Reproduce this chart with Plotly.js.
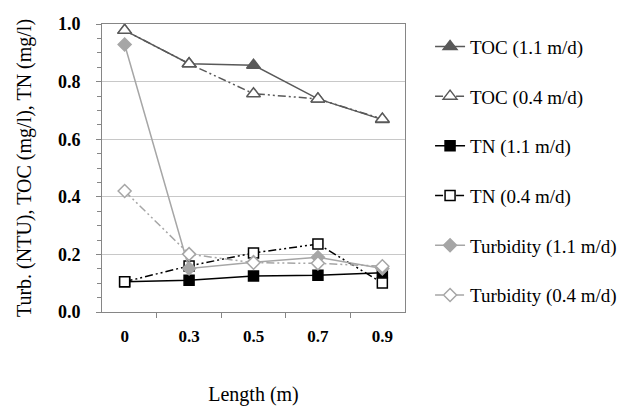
<!DOCTYPE html>
<html>
<head>
<meta charset="utf-8">
<script src="https://cdn.plot.ly/plotly-3.0.1.min.js"></script>
<style>html,body{margin:0;padding:0;background:#fff;}#chart{width:626px;height:406px;}</style>
</head>
<body>
<div id="chart"></div>
<script>
var categories = ['0', '0.3', '0.5', '0.7', '0.9'];
var tocFast = [0.978, 0.862, 0.857, 0.74, 0.668];
var tocSlow = [0.978, 0.862, 0.758, 0.74, 0.67];
var tnFast = [0.105, 0.11, 0.125, 0.128, 0.136];
var tnSlow = [0.105, 0.16, 0.205, 0.236, 0.101];
var turbFast = [0.929, 0.151, 0.173, 0.19, 0.151];
var turbSlow = [0.42, 0.201, 0.171, 0.169, 0.159];
var seriesNames = ['TOC (1.1 m/d)', 'TOC (0.4 m/d)', 'TN (1.1 m/d)', 'TN (0.4 m/d)', 'Turbidity (1.1 m/d)', 'Turbidity (0.4 m/d)'];

var FONT = '"Liberation Serif", "DejaVu Serif", serif';
var dashDotDot = '8px,3px,2px,3px,2px,3px';
function tr(y, name, color, dash, symbol, fill, size, g) {
  return {
    x: categories, y: y, name: name, type: 'scatter', mode: 'lines+markers',
    legendgroup: g,
    line: {color: color, width: 1.5, dash: dash},
    marker: {symbol: symbol, size: size, color: fill, line: {color: color, width: 1.5}}
  };
}
var data = [
  tr(tocFast, seriesNames[0], '#595959', 'solid', 'triangle-up', '#595959', 12, 'a'),
  tr(tocSlow, seriesNames[1], '#595959', dashDotDot, 'triangle-up', '#ffffff', 12, 'b'),
  tr(tnFast, seriesNames[2], '#000000', 'solid', 'square', '#000000', 10, 'c'),
  tr(tnSlow, seriesNames[3], '#000000', dashDotDot, 'square', '#ffffff', 10, 'd'),
  tr(turbFast, seriesNames[4], '#a6a6a6', 'solid', 'diamond', '#a6a6a6', 10, 'e'),
  tr(turbSlow, seriesNames[5], '#a6a6a6', dashDotDot, 'diamond', '#ffffff', 10, 'f')
];

var layout = {
  width: 626, height: 406,
  margin: {l: 102, r: 221, t: 24, b: 94},
  paper_bgcolor: '#ffffff', plot_bgcolor: '#ffffff',
  font: {family: FONT, color: '#000'},
  showlegend: true,
  legend: {xref: 'container', yref: 'container', x: 0.687, xanchor: 'left', y: 0.932, yanchor: 'top',
           maxheight: 380,
           tracegroupgap: 22, font: {size: 19, family: FONT}, itemwidth: 30, bgcolor: 'rgba(0,0,0,0)'},
  xaxis: {
    type: 'category', tickson: 'boundaries', ticks: 'outside', ticklen: 5, tickcolor: '#868686',
    ticklabelstandoff: 9,
    showline: true, linecolor: '#868686', linewidth: 1, mirror: true, showgrid: false,
    tickfont: {size: 17, family: FONT, weight: 'bold'},
    title: {text: 'Length (m)', font: {size: 20, family: FONT}, standoff: 46},
    fixedrange: true
  },
  yaxis: {
    range: [0, 1], dtick: 0.2, tickformat: '.1f', ticks: 'outside', ticklen: 5, tickcolor: '#868686',
    ticklabelstandoff: 12,
    minor: {dtick: 0.05, ticks: 'outside', ticklen: 4, tickcolor: '#868686', showgrid: false},
    showline: true, linecolor: '#868686', linewidth: 1, mirror: true,
    showgrid: true, gridcolor: '#c8c8c8', gridwidth: 1, zeroline: false,
    tickfont: {size: 18, family: FONT, weight: 'bold'},
    title: {text: 'Turb. (NTU), TOC (mg/l), TN (mg/l)', font: {size: 20, family: FONT}, standoff: 20},
    fixedrange: true
  }
};
Plotly.newPlot('chart', data, layout, {displayModeBar: false, staticPlot: true});
</script>
</body>
</html>
